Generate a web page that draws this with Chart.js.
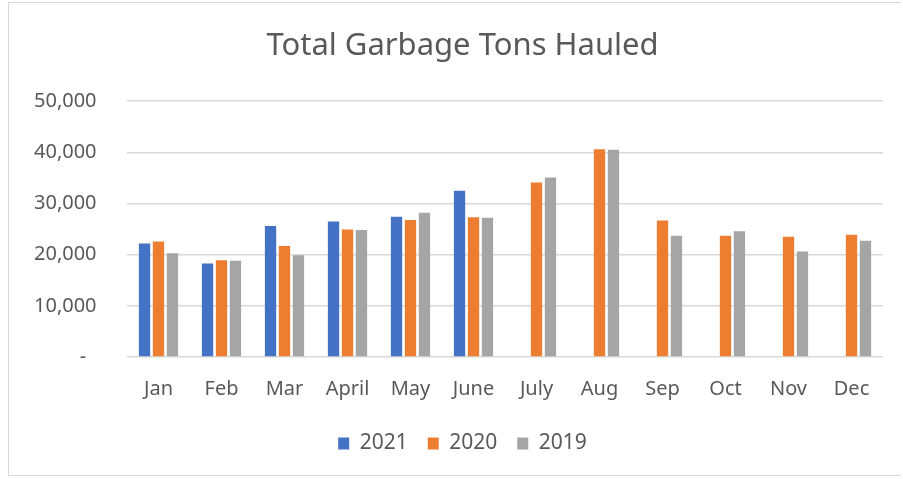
<!DOCTYPE html>
<html>
<head>
<meta charset="utf-8">
<script src="https://cdn.jsdelivr.net/npm/chart.js@4"></script>
<style>
  body { margin: 0; background: #fff; }
  .box {
    position: absolute; left: 8px; top: 2px;
    width: 893px; height: 474px;
    border: 1px solid #d9d9d9; border-right: none;
    box-sizing: border-box;
  }
  .box canvas { display: block; }
</style>
</head>
<body>
<div class="box"><canvas id="chart"></canvas></div>
<script>
const months = ['Jan', 'Feb', 'Mar', 'April', 'May', 'June', 'July', 'Aug', 'Sep', 'Oct', 'Nov', 'Dec'];
const tons2021 = [22200, 18300, 25600, 26500, 27400, 32500, null, null, null, null, null, null];
const tons2020 = [22600, 18900, 21700, 24900, 26800, 27300, 34100, 40600, 26700, 23700, 23500, 23900];
const tons2019 = [20300, 18800, 19900, 24800, 28200, 27200, 35100, 40500, 23700, 24600, 20600, 22700];
const yTicks = [0, 10000, 20000, 30000, 40000, 50000];

const textColor = '#595959';
const fontFamily = '"Noto Sans", "Open Sans", sans-serif';

const ctx = document.getElementById('chart').getContext('2d');

new Chart(ctx, {
  type: 'bar',
  data: {
    labels: months,
    datasets: [
      { label: '2021', data: tons2021, backgroundColor: '#4472c4' },
      { label: '2020', data: tons2020, backgroundColor: '#ed7d31' },
      { label: '2019', data: tons2019, backgroundColor: '#a5a5a5' }
    ]
  },
  options: {
    responsive: true,
    maintainAspectRatio: false,
    animation: false,
    // extra left padding keeps title and legend centred like the original
    layout: { padding: { left: 33, right: 18, top: 20, bottom: 11 } },
    datasets: {
      bar: { categoryPercentage: 0.665, barPercentage: 0.81 }
    },
    plugins: {
      title: {
        display: true,
        text: 'Total Garbage Tons Hauled',
        color: textColor,
        font: { family: fontFamily, size: 31, weight: 'normal' },
        padding: { top: 5, bottom: 36 }
      },
      legend: {
        position: 'bottom',
        labels: {
          color: textColor,
          font: { family: fontFamily, size: 21 },
          boxWidth: 11,
          boxHeight: 12,
          padding: 20
        }
      },
      tooltip: { enabled: false }
    },
    scales: {
      x: {
        grid: { display: false },
        border: { display: false },
        ticks: {
          color: textColor,
          font: { family: fontFamily, size: 20 },
          padding: 12
        }
      },
      y: {
        min: 0,
        max: 50000,
        afterBuildTicks: axis => { axis.ticks = yTicks.map(v => ({ value: v })); },
        afterFit: axis => { axis.width = 85; },
        grid: { color: '#d9d9d9', lineWidth: 1.5, drawTicks: false },
        border: { display: false },
        ticks: {
          // mirrored so the labels are not clipped to the narrow axis box
          mirror: true,
          crossAlign: 'far',
          color: textColor,
          font: { family: fontFamily, size: 20 },
          padding: -93,
          callback: v => v === 0 ? '-  ' : v.toLocaleString('en-US')
        }
      }
    }
  }
});
</script>
</body>
</html>
